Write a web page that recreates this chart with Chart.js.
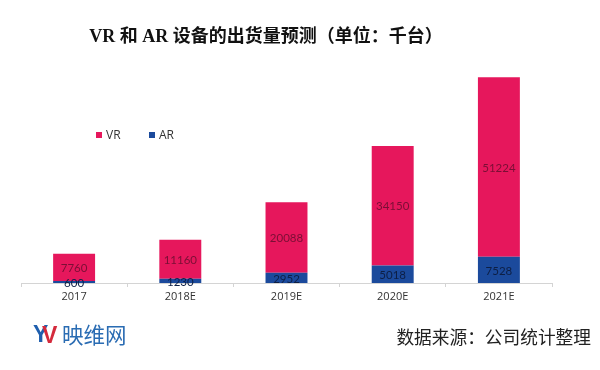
<!DOCTYPE html>
<html>
<head>
<meta charset="utf-8">
<script src="https://cdn.jsdelivr.net/npm/chart.js@4.4.0/dist/chart.umd.min.js"></script>
<style>
html,body{margin:0;padding:0;background:#fff;}
#wrap{width:600px;height:370px;position:relative;}
</style>
</head>
<body>
<div id="wrap"><canvas id="c" width="600" height="370"></canvas></div>
<script>
const categories = ['2017', '2018E', '2019E', '2020E', '2021E'];
const vrValues = [7760, 11160, 20088, 34150, 51224];
const arValues = [600, 1230, 2952, 5018, 7528];
const seriesNames = ['VR', 'AR'];
const titleText = 'VR 和 AR 设备的出货量预测（单位：千台）';
const sourceText = '数据来源：公司统计整理';
const logoText = '映维网';

const PINK = '#e6175c';
const BLUE = '#1b4a9c';

const decorPlugin = {
  id: 'decor',
  afterDraw(chart) {
    const ctx = chart.ctx;
    ctx.save();
    // title
    ctx.fillStyle = '#111';
    ctx.textBaseline = 'middle';
    ctx.textAlign = 'center';
    ctx.font = 'bold 18px "Liberation Serif", "Noto Sans CJK SC", serif';
    ctx.fillText(titleText, 266, 37);

    // legend (drawn from datasets, VR first)
    const legendOrder = [1, 0];
    const xs = [96, 149];
    ctx.textAlign = 'left';
    ctx.font = '12px "Open Sans", sans-serif';
    legendOrder.forEach((di, k) => {
      const ds = chart.data.datasets[di];
      ctx.fillStyle = ds.backgroundColor;
      ctx.fillRect(xs[k], 132, 6, 6);
      ctx.fillStyle = '#333';
      ctx.fillText(ds.label, xs[k] + 10, 135.5);
    });

    // data labels
    ctx.textAlign = 'center';
    ctx.font = '11.5px Lato, "Open Sans", sans-serif';
    chart.data.datasets.forEach((ds, di) => {
      const meta = chart.getDatasetMeta(di);
      meta.data.forEach((bar, i) => {
        const y = (bar.y + bar.base) / 2;
        ctx.fillStyle = di === 1 ? '#7a0f35' : '#0d1f45';
        ctx.fillText(String(ds.data[i]), bar.x, y + 1);
      });
    });

    // footer logo
    ctx.textAlign = 'left';
    ctx.font = 'bold 23px "Liberation Sans", sans-serif';
    ctx.fillStyle = '#1f5fae';
    ctx.fillText('Y', 33, 336);
    ctx.fillStyle = '#d42a3c';
    ctx.fillText('V', 42, 337);
    ctx.font = '21.5px "Noto Sans CJK SC", sans-serif';
    ctx.fillStyle = '#2a6cb3';
    ctx.fillText(logoText, 62, 335);

    // source
    ctx.textAlign = 'right';
    ctx.font = '17.7px "Noto Sans CJK SC", sans-serif';
    ctx.fillStyle = '#222';
    ctx.fillText(sourceText, 591, 337);
    ctx.restore();
  }
};

new Chart(document.getElementById('c'), {
  type: 'bar',
  data: {
    labels: categories,
    datasets: [
      { label: seriesNames[1], data: arValues, backgroundColor: BLUE, borderWidth: 0 },
      { label: seriesNames[0], data: vrValues, backgroundColor: PINK, borderWidth: 0 }
    ]
  },
  options: {
    responsive: false,
    animation: false,
    layout: { padding: { left: 21, right: 48, top: 73, bottom: 0 } },
    datasets: { bar: { categoryPercentage: 1, barPercentage: 0.395 } },
    plugins: { legend: { display: false }, title: { display: false }, tooltip: { enabled: false } },
    scales: {
      x: {
        stacked: true,
        afterFit(scale) { scale.height = 87; },
        border: { display: true, color: '#d4d4d4', width: 1 },
        grid: { display: true, offset: true, drawOnChartArea: false, drawTicks: true, tickLength: 4, color: '#d4d4d4' },
        ticks: { color: '#333', font: { family: '"Open Sans", sans-serif', size: 11 }, padding: 3 }
      },
      y: {
        stacked: true,
        display: false,
        min: 0,
        max: 60000
      }
    }
  },
  plugins: [decorPlugin]
});
</script>
</body>
</html>
